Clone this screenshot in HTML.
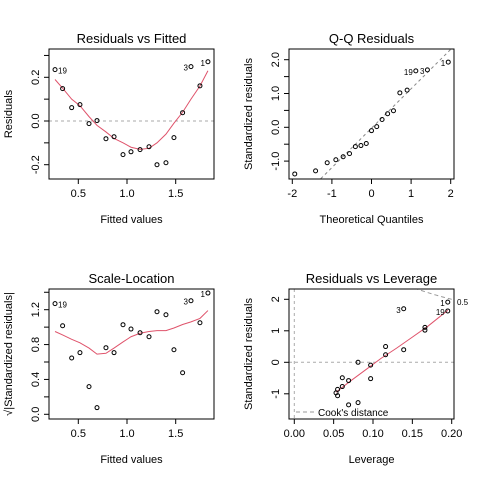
<!DOCTYPE html>
<html><head><meta charset="utf-8"><style>
body{margin:0;background:#fff;}
svg text{font-family:"Liberation Sans",Arial,sans-serif;fill:#000;}
</style></head><body>
<svg id="c" width="480" height="480" xmlns="http://www.w3.org/2000/svg"></svg>
<script>
// ---- data ----
const fitted=[0.261,0.339,0.432,0.517,0.610,0.692,0.784,0.867,0.959,1.041,1.134,1.226,1.308,1.400,1.482,1.571,1.657,1.749,1.831];
const resid=[0.235,0.148,0.061,0.075,-0.012,0.002,-0.081,-0.072,-0.154,-0.141,-0.131,-0.118,-0.200,-0.191,-0.076,0.038,0.249,0.161,0.271];
const residSmooth=[0.19,0.15,0.10,0.07,0.02,-0.02,-0.05,-0.08,-0.10,-0.12,-0.13,-0.125,-0.10,-0.06,-0.01,0.04,0.10,0.16,0.23];
const pointIds=["19","","","","","","","","","","","","","","","","3","","1"];
const qqTheo=[-1.938,-1.412,-1.119,-0.900,-0.716,-0.555,-0.407,-0.267,-0.132,0,0.132,0.267,0.407,0.555,0.716,0.900,1.119,1.412,1.938];
const qqStd=[-1.38,-1.29,-1.05,-0.96,-0.87,-0.78,-0.57,-0.54,-0.48,-0.10,0.02,0.23,0.40,0.49,1.02,1.10,1.67,1.70,1.93];
const qqIds=["","","","","","","","","","","","","","","","","19","3","1"];
const slRoot=[1.27,1.016,0.646,0.707,0.317,0.076,0.764,0.707,1.028,0.978,0.936,0.890,1.177,1.142,0.741,0.477,1.303,1.050,1.391];
const slSmooth=[0.95,0.91,0.86,0.82,0.76,0.69,0.70,0.76,0.83,0.89,0.93,0.95,0.96,0.96,0.99,1.03,1.06,1.10,1.19];
const lev=[0.195,0.195,0.139,0.166,0.166,0.116,0.116,0.139,0.081,0.097,0.097,0.061,0.069,0.061,0.055,0.053,0.055,0.081,0.069];
const levStd=[1.91,1.63,1.70,1.11,1.02,0.50,0.24,0.40,0.0,-0.09,-0.52,-0.49,-0.58,-0.77,-0.86,-0.97,-1.06,-1.28,-1.35];
const levIds=["1","19","3","","","","","","","","","","","","","","","",""];
const levSmoothX=[0.053,0.07,0.09,0.11,0.13,0.15,0.17,0.195];
const levSmoothY=[-0.95,-0.62,-0.25,0.12,0.45,0.80,1.15,1.65];

const S=document.getElementById('c');const NS='http://www.w3.org/2000/svg';
function el(t,a,p){const e=document.createElementNS(NS,t);for(const k in a)e.setAttribute(k,a[k]);(p||S).appendChild(e);return e;}
function txt(s,a,p){const e=el('text',a,p);e.textContent=s;return e;}

function panel(o){
  const g=el('g',{});
  
  
  const X=v=>o.x0+(v-o.xa)*(o.x1-o.x0)/(o.xb-o.xa);
  const Y=v=>o.y0+(v-o.ya)*(o.y1-o.y0)/(o.yb-o.ya);
  const L=o.L,T=o.T,R=o.R,B=o.B;
  const t=txt(o.title,{x:(L+R)/2,y:T-6,'text-anchor':'middle','font-size':13},g);
  
  const xl=txt(o.xlab,{x:(L+R)/2,y:B+44,'text-anchor':'middle','font-size':11},g);
  
  const yl=txt(o.ylab,{x:0,y:0,'text-anchor':'middle','font-size':11,transform:`translate(${L-37},${(T+B)/2}) rotate(-90)`},g);
  
  o.xt.forEach((v,i)=>{const px=X(v);el('line',{x1:px,x2:px,y1:B,y2:B+5,stroke:'#000'},g);
    if(o.xtl[i]!==''){const l=txt(o.xtl[i],{x:px,y:B+18,'text-anchor':'middle','font-size':11},g);
    }});
  o.yt.forEach((v,i)=>{const py=Y(v);el('line',{x1:L-5,x2:L,y1:py,y2:py,stroke:'#000'},g);
    if(o.ytl[i]!==''){const l=txt(o.ytl[i],{x:0,y:0,'text-anchor':'middle','font-size':11,transform:`translate(${L-10},${py}) rotate(-90)`},g);
    }});
  const cp='clip'+o.name;const c=el('clipPath',{id:cp},g);el('rect',{x:L,y:T,width:R-L,height:B-T},c);
  const inner=el('g',{'clip-path':`url(#${cp})`},g);
  o.draw(inner,X,Y);
  o.xs.forEach((v,i)=>{const p=el('circle',{cx:X(v),cy:Y(o.ys[i]),r:2,fill:'none',stroke:'#000','stroke-width':1},g);
    
    if(o.ids[i]){const left=o.leftIds.includes(o.ids[i]);const l=txt(o.ids[i],{x:X(v)+(left?-3:3),y:Y(o.ys[i])+4,'text-anchor':left?'end':'start','font-size':8,fill:'#555'},g);
      }});
  el('rect',{x:L,y:T,width:R-L,height:B-T,fill:'none',stroke:'#000'},g);
}
function line(p,xs,ys,X,Y,a){const d=xs.map((v,i)=>(i?'L':'M')+X(v)+' '+Y(ys[i])).join('');const e=el('path',Object.assign({d,fill:'none'},a),p);return e;}

// Panel 1
panel({name:'residuals-vs-fitted',title:'Residuals vs Fitted',xlab:'Fitted values',ylab:'Residuals',
 L:49,R:214,T:49,B:179,xa:0.5,xb:1.5,x0:78.3,x1:175.7,ya:0,yb:0.2,y0:121,y1:77.3,
 xt:[0.5,1.0,1.5],xtl:['0.5','1.0','1.5'],yt:[-0.2,-0.1,0,0.1,0.2,0.3],ytl:['-0.2','','0.0','','0.2',''],
 xs:fitted,ys:resid,ids:pointIds,leftIds:['3','1'],
 draw:(g,X,Y)=>{el('line',{x1:49,x2:214,y1:Y(0),y2:Y(0),stroke:'#aaa','stroke-dasharray':'3,3'},g);
   const s=line(g,fitted,residSmooth,X,Y,{stroke:'#df536b'});}});
// Panel 2
panel({name:'qq-residuals',title:'Q-Q Residuals',xlab:'Theoretical Quantiles',ylab:'Standardized residuals',
 L:289,R:454,T:49,B:179,xa:-2,xb:2,x0:292.3,x1:450.7,ya:0,yb:2,y0:127.3,y1:59.7,
 xt:[-2,-1,0,1,2],xtl:['-2','-1','0','1','2'],yt:[-1,-0.5,0,0.5,1,1.5,2],ytl:['-1.0','','0.0','','1.0','','2.0'],
 xs:qqTheo,ys:qqStd,ids:qqIds,leftIds:['19','3','1'],
 draw:(g,X,Y)=>{const l=line(g,[-3,3],[-0.026-3*1.166,-0.026+3*1.166],X,Y,{stroke:'#888','stroke-dasharray':'3,3'});}});
// Panel 3
panel({name:'scale-location',title:'Scale-Location',xlab:'Fitted values',ylab:'√|Standardized residuals|',
 L:49,R:214,T:289,B:419,xa:0.5,xb:1.5,x0:78.3,x1:175.7,ya:0,yb:1.2,y0:414.3,y1:309.7,
 xt:[0.5,1.0,1.5],xtl:['0.5','1.0','1.5'],yt:[0,0.2,0.4,0.6,0.8,1.0,1.2,1.4],ytl:['0.0','','0.4','','0.8','','1.2',''],
 xs:fitted,ys:slRoot,ids:pointIds,leftIds:['3','1'],
 draw:(g,X,Y)=>{const s=line(g,fitted,slSmooth,X,Y,{stroke:'#df536b'});}});
// Panel 4
panel({name:'residuals-vs-leverage',title:'Residuals vs Leverage',xlab:'Leverage',ylab:'Standardized residuals',
 L:289,R:454,T:289,B:419,xa:0,xb:0.2,x0:294.3,x1:451.7,ya:0,yb:2,y0:362.3,y1:299.3,
 xt:[0,0.05,0.1,0.15,0.2],xtl:['0.00','0.05','0.10','0.15','0.20'],yt:[-1,0,1,2],ytl:['-1','0','1','2'],
 xs:lev,ys:levStd,ids:levIds,leftIds:['1','19','3'],
 draw:(g,X,Y)=>{el('line',{x1:289,x2:454,y1:Y(0),y2:Y(0),stroke:'#aaa','stroke-dasharray':'3,3'},g);
   el('line',{x1:X(0),x2:X(0),y1:289,y2:419,stroke:'#aaa','stroke-dasharray':'3,3'},g);
   const hx=[],hy=[];for(let h=0.12;h<=0.25;h+=0.002){hx.push(h);hy.push(Math.sqrt(0.5*2*(1-h)/h));}
   const ck=line(g,hx,hy,X,Y,{stroke:'#999','stroke-dasharray':'4,3'});
   const s=line(g,levSmoothX,levSmoothY,X,Y,{stroke:'#df536b'});
   el('line',{x1:296,x2:316,y1:412,y2:412,stroke:'#999','stroke-dasharray':'4,3'},g);
   const lt=txt("Cook's distance",{x:318,y:416,'font-size':10,fill:'#999'},g);}});
const c5=txt('0.5',{x:457,y:305,'font-size':8,fill:'#99a'});


</script>
</body></html>
